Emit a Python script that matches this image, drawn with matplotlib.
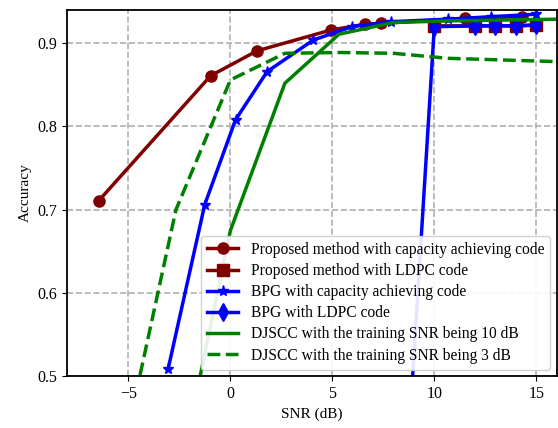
import matplotlib
matplotlib.use("Agg")
import matplotlib.pyplot as plt

plt.rcParams['font.family'] = ['Liberation Serif', 'DejaVu Serif']
plt.rcParams['font.size'] = 11.5

# proposed method
snr_prop_cap = [-6.45, -0.97, 1.31, 4.93, 6.6, 7.4, 11.5, 14.3]
acc_prop_cap = [0.711, 0.861, 0.891, 0.916, 0.923, 0.924, 0.930, 0.932]
snr_prop_ldpc = [10, 12, 13, 14, 15]
acc_prop_ldpc = [0.921, 0.921, 0.921, 0.921, 0.922]

# BPG
snr_bpg_cap = [-3.06, -1.26, 0.25, 1.8, 4.07, 5.96, 7.87, 10.65, 12.76, 15.0]
acc_bpg_cap = [0.508, 0.706, 0.808, 0.866, 0.904, 0.92, 0.926, 0.929, 0.932, 0.935]
snr_bpg_ldpc = [8, 10, 12, 13, 14, 15]
acc_bpg_ldpc = [0.13, 0.920, 0.921, 0.921, 0.921, 0.922]

# DJSCC
snr_djscc = [-5.33, -2.67, 0, 2.67, 5.33, 8, 10.67, 13.33, 16]
acc_djscc_10 = [0.20, 0.36, 0.675, 0.852, 0.911, 0.925, 0.927, 0.928, 0.929]
acc_djscc_3 = [0.40, 0.70, 0.856, 0.888, 0.889, 0.888, 0.882, 0.880, 0.878]

fig = plt.figure(figsize=(5.58, 4.28), dpi=100)
ax = fig.add_axes([0.1206, 0.1215, 0.877, 0.855])

lw = 2.5
ax.plot(snr_prop_cap, acc_prop_cap, color='#800000', marker='o', ms=8, lw=lw,
        label='Proposed method with capacity achieving code')
ax.plot(snr_prop_ldpc, acc_prop_ldpc, color='#800000', marker='s', ms=8, lw=lw,
        label='Proposed method with LDPC code')
ax.plot(snr_bpg_cap, acc_bpg_cap, color='blue', marker='*', ms=8, lw=lw,
        label='BPG with capacity achieving code')
ax.plot(snr_bpg_ldpc, acc_bpg_ldpc, color='blue', marker='d', ms=9, lw=lw,
        label='BPG with LDPC code')
ax.plot(snr_djscc, acc_djscc_10, color='green', lw=lw,
        label='DJSCC with the training SNR being 10 dB')
ax.plot(snr_djscc, acc_djscc_3, color='green', ls='--', lw=lw,
        label='DJSCC with the training SNR being 3 dB')

ax.set_xlim(-8, 16)
ax.set_ylim(0.5, 0.94)
ax.set_xticks([-5, 0, 5, 10, 15])
ax.set_yticks([0.5, 0.6, 0.7, 0.8, 0.9])
ax.grid(True, ls='--', color='#b0b0b0', lw=1.2)
ax.set_xlabel('SNR (dB)', fontsize=11)
ax.set_ylabel('Accuracy', fontsize=11)
for s in ax.spines.values():
    s.set_linewidth(1.3)
ax.legend(loc='lower right', fontsize=11.2, borderaxespad=0.4,
          labelspacing=0.33, framealpha=0.9)

fig.savefig('out.png', dpi=100)
